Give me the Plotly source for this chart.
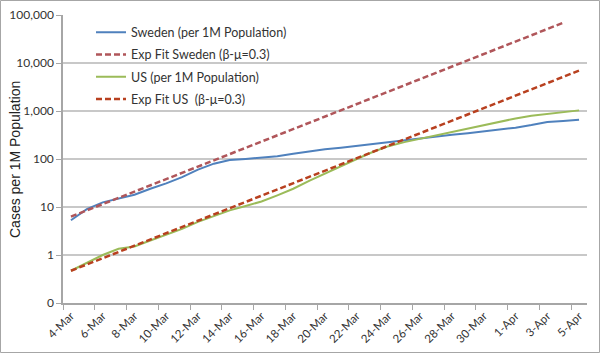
import plotly.graph_objects as go

dates = ["4-Mar", "5-Mar", "6-Mar", "7-Mar", "8-Mar", "9-Mar", "10-Mar", "11-Mar",
         "12-Mar", "13-Mar", "14-Mar", "15-Mar", "16-Mar", "17-Mar", "18-Mar", "19-Mar",
         "20-Mar", "21-Mar", "22-Mar", "23-Mar", "24-Mar", "25-Mar", "26-Mar", "27-Mar",
         "28-Mar", "29-Mar", "30-Mar", "31-Mar", "1-Apr", "2-Apr", "3-Apr", "4-Apr", "5-Apr"]

sweden = [5.3, 9, 12.5, 15, 18, 24, 31, 42, 60, 80, 95, 100, 106, 114, 128, 145,
          160, 172, 188, 208, 228, 250, 275, 300, 320, 345, 375, 410, 450, 510, 590, 620, 660]

sweden_fit = [6.3, 8.5, 11.5, 15.5, 20.9, 28.2, 38.1, 51.4, 69.4, 93.7, 126.5, 170.7,
              230.5, 311, 420, 567, 765, 1033, 1394, 1882, 2540, 3429, 4629, 6248,
              8434, 11385, 15368, 20745, 28003, 37800, 51025, 68877]

us = [0.47, 0.68, 1.0, 1.35, 1.5, 2.0, 2.6, 3.5, 4.9, 6.5, 8.5, 10.5, 13, 17.5, 24, 35,
      50, 72, 100, 140, 185, 225, 265, 310, 370, 430, 510, 600, 700, 800, 880, 960, 1030]

us_fit = [0.47, 0.634, 0.856, 1.156, 1.56, 2.106, 2.843, 3.838, 5.181, 6.993, 9.44,
          12.74, 17.2, 23.22, 31.34, 42.31, 57.1, 77.1, 104.0, 140.4, 189.6, 255.9,
          345.4, 466.3, 629.4, 849.6, 1146.8, 1548, 2090, 2821, 3808, 5140, 6939]

y_tickvals = [0.1, 1, 10, 100, 1000, 10000, 100000]
y_ticktext = ["0", "1", "10", "100", "1,000", "10,000", "100,000"]
y_title = "Cases per 1M Population"

idx = list(range(len(dates)))

fig = go.Figure()
fig.add_trace(go.Scatter(x=idx[:len(sweden)], y=sweden, mode="lines",
                         name="Sweden (per 1M Population)", legendgroup="a",
                         line=dict(color="#4F81BD", width=2)))
fig.add_trace(go.Scatter(x=idx[:len(sweden_fit)], y=sweden_fit, mode="lines",
                         name="Exp Fit Sweden (β-μ=0.3)", legendgroup="b",
                         line=dict(color="#B0565A", width=2.5, dash="6px,3px")))
fig.add_trace(go.Scatter(x=idx[:len(us)], y=us, mode="lines",
                         name="US (per 1M Population)", legendgroup="c",
                         line=dict(color="#9BBB59", width=2)))
fig.add_trace(go.Scatter(x=idx[:len(us_fit)], y=us_fit, mode="lines",
                         name="Exp Fit US  (β-μ=0.3)", legendgroup="d",
                         line=dict(color="#B8401F", width=2.5, dash="6px,3px")))

L, R, T, B = 63, 13, 15, 50
pw, ph = 600 - L - R, 353 - T - B

def px2paper(x, y):
    return (x - L) / pw, (353 - B - y) / ph

x0, y0 = px2paper(73, 20)
x1, y1 = px2paper(265, 106)
bx0, by0 = px2paper(0.5, 0.5)
bx1, by1 = px2paper(599.5, 352.5)
lx, ly = px2paper(91, 17.5)
tx, ty = px2paper(15, 160)

fig.update_layout(
    width=600, height=353,
    margin=dict(l=L, r=R, t=T, b=B, autoexpand=False),
    paper_bgcolor="white", plot_bgcolor="white",
    font=dict(family="Lato, Open Sans, sans-serif", size=12, color="#333333"),
    showlegend=True,
    legend=dict(x=lx, y=ly, xanchor="left", yanchor="top", bgcolor="rgba(0,0,0,0)",
                font=dict(size=12.5, color="#333333"), tracegroupgap=3,
                traceorder="grouped", itemwidth=30),
    shapes=[
        dict(type="rect", xref="paper", yref="paper", x0=x0, x1=x1, y0=y1, y1=y0,
             fillcolor="white", line=dict(width=0), layer="between"),
        dict(type="rect", xref="paper", yref="paper", x0=bx0, x1=bx1, y0=by1, y1=by0,
             line=dict(color="#A6A6A6", width=1), fillcolor="rgba(0,0,0,0)", layer="above"),
    ],
    annotations=[
        dict(text=y_title, xref="paper", yref="paper", x=tx, y=ty,
             xanchor="center", yanchor="middle", textangle=-90, showarrow=False,
             font=dict(family="Liberation Sans, Arial, sans-serif", size=14, color="#222222")),
    ],
)

fig.update_xaxes(
    automargin=False,
    range=[-0.5, len(dates) - 0.5],
    tickmode="array", tickvals=idx[::2], ticktext=dates[::2],
    tickangle=-45, ticks="", showgrid=False, zeroline=False,
    showline=True, linecolor="#A6A6A6", linewidth=1.5,
    tickfont=dict(size=11.5, color="#333333"),
    minor=dict(tickmode="array", tickvals=[i - 0.5 for i in idx[::2]],
               ticks="outside", ticklen=5, tickcolor="#A6A6A6", showgrid=False),
)

fig.update_yaxes(
    automargin=False,
    type="log", range=[-1, 5],
    tickmode="array", tickvals=y_tickvals, ticktext=y_ticktext,
    ticks="outside", ticklen=5, tickcolor="#A6A6A6",
    showgrid=True, gridcolor="#C8C8C8", gridwidth=1.5,
    showline=True, linecolor="#A6A6A6", linewidth=1.5, zeroline=False,
    tickfont=dict(size=12, color="#333333"),
)

fig.write_html("out.html")
